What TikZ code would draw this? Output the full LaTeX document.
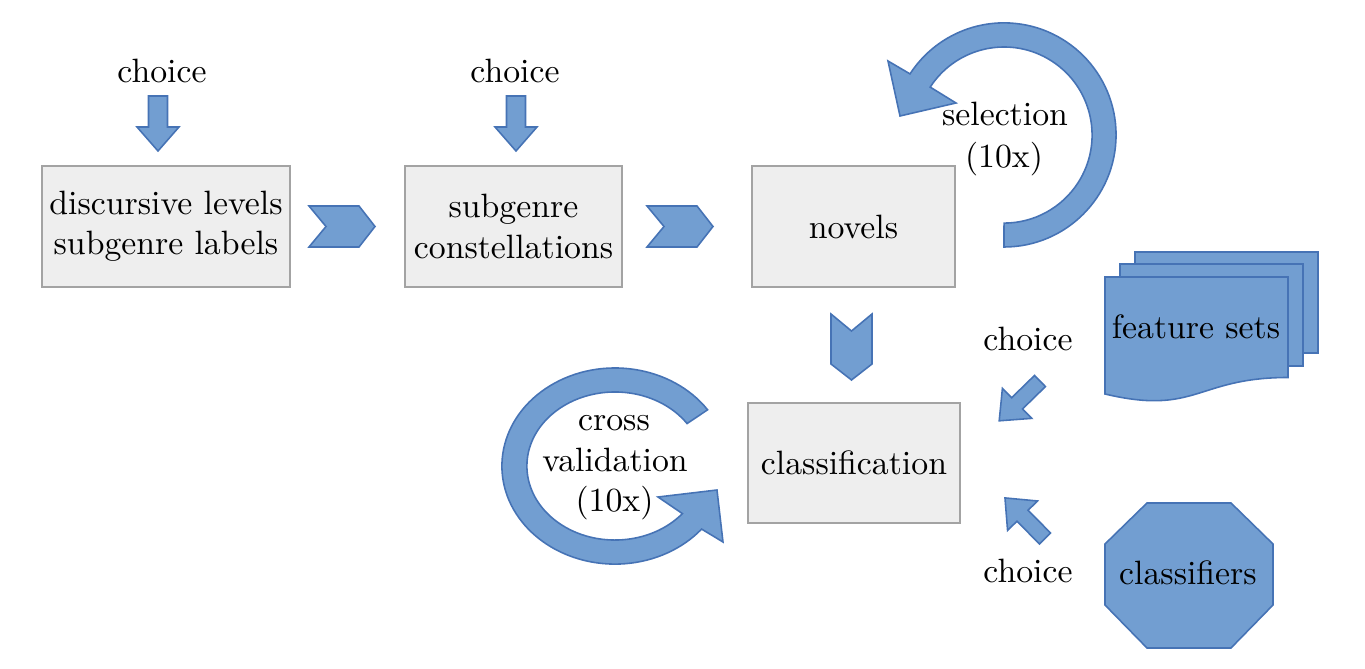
\documentclass[tikz,border=0pt]{standalone}
\usepackage{fontspec}
\usetikzlibrary{calc}
\definecolor{bfill}{HTML}{729ED1}
\definecolor{bline}{HTML}{4673B5}
\definecolor{boxfill}{HTML}{EEEEEE}
\definecolor{boxline}{HTML}{A3A3A3}
\begin{document}
\begin{tikzpicture}[x=0.01cm,y=0.01cm,
  font=\fontsize{9.6pt}{11.4pt}\selectfont,
  bshape/.style={fill=bfill,draw=bline,line width=0.45pt,line join=miter},
  greybox/.style={draw=boxline,fill=boxfill,line width=0.6pt,inner sep=0pt,align=center},
  lbl/.style={inner sep=0pt,anchor=base,align=center},
  pics/blockarrow/.style={code={\path[bshape] (0,-9.5) -- (31,-9.5) -- (31,-21) -- (55,0) -- (31,21) -- (31,9.5) -- (0,9.5) -- cycle;}},
  pics/diagarrow/.style={code={\path[bshape] (0,-7.8) -- (32,-7.8) -- (32,-21) -- (57,0) -- (32,21) -- (32,7.8) -- (0,7.8) -- cycle;}},
  pics/chevron/.style={code={\path[bshape] (0,20.5) -- (50,20.5) -- (66,0) -- (50,-20.5) -- (0,-20.5) -- (17,0) -- cycle;}}
]
\useasboundingbox (0,0) rectangle (1365,669);

% boxes
\node[greybox,minimum width=2.48cm,minimum height=1.21cm] (levels) at (166,442.5) {discursive levels\\subgenre labels};
\node[greybox,minimum width=2.17cm,minimum height=1.21cm] (constellations) at (513.5,442.5) {subgenre\\constellations};
\node[greybox,minimum width=2.03cm,minimum height=1.21cm] (novels) at (853.5,442.5) {novels};
\node[greybox,minimum width=2.12cm,minimum height=1.20cm] (classification) at (854,206) {classification};

% choice labels
\node[lbl] (choice1) at (162,587) {choice};
\node[lbl] (choice2) at (515,587) {choice};
\node[lbl] (choice3) at (1028,318) {choice};
\node[lbl] (choice4) at (1028,86) {choice};

% down arrows
\pic[rotate=-90] at (158,573) {blockarrow};
\pic[rotate=-90] at (516,573) {blockarrow};

% chevrons
\pic at (309,442.5) {chevron};
\pic at (647,442.5) {chevron};
\pic[rotate=-90] at (851.5,355) {chevron};

% diagonal arrows
\pic[rotate=224.3] at (1040,288) {diagarrow};
\pic[rotate=134.6] at (1045,130.5) {diagarrow};

% selection loop
\path[bshape] (1004,422) arc[start angle=-90,end angle=147,radius=1.12cm]
  -- (888,608) -- (900,553) -- (956,566) -- (930.2,581.9)
  arc[start angle=147,end angle=-90,radius=0.88cm] -- cycle;
\node[lbl] (sel1) at (1005,543) {selection};
\node[lbl] (sel2) at (1004,501) {(10x)};

% cross validation loop
\path[bshape] (707.6,259.2) arc[start angle=35,end angle=320,x radius=1.13cm,y radius=0.98cm]
  -- (723,127) -- (717,179) -- (658,172) -- (682.4,155.4)
  arc[start angle=320,end angle=35,x radius=0.88cm,y radius=0.74cm] -- cycle;
\node[lbl] (cv1) at (614,238) {cross};
\node[lbl] (cv2) at (615,197) {validation};
\node[lbl] (cv3) at (614.5,157) {(10x)};

% feature sets
\path[bshape] (1135,316) rectangle (1318,417);
\path[bshape] (1120,303) rectangle (1303,405);
\path[bshape] (1105,392) -- (1288,392) -- (1288,291.5)
  .. controls (1196.5,291.5) and (1196.5,253.2) .. (1105,275) -- cycle;
\node[lbl] (features) at (1196,330) {feature sets};

% classifiers
\path[bshape] (1147,166) -- (1231,166) -- (1273,125) -- (1273,64) -- (1231,21)
  -- (1147,21) -- (1105,64) -- (1105,125) -- cycle;
\node[lbl] (classifiers) at (1188,84) {classifiers};
\end{tikzpicture}
\end{document}
